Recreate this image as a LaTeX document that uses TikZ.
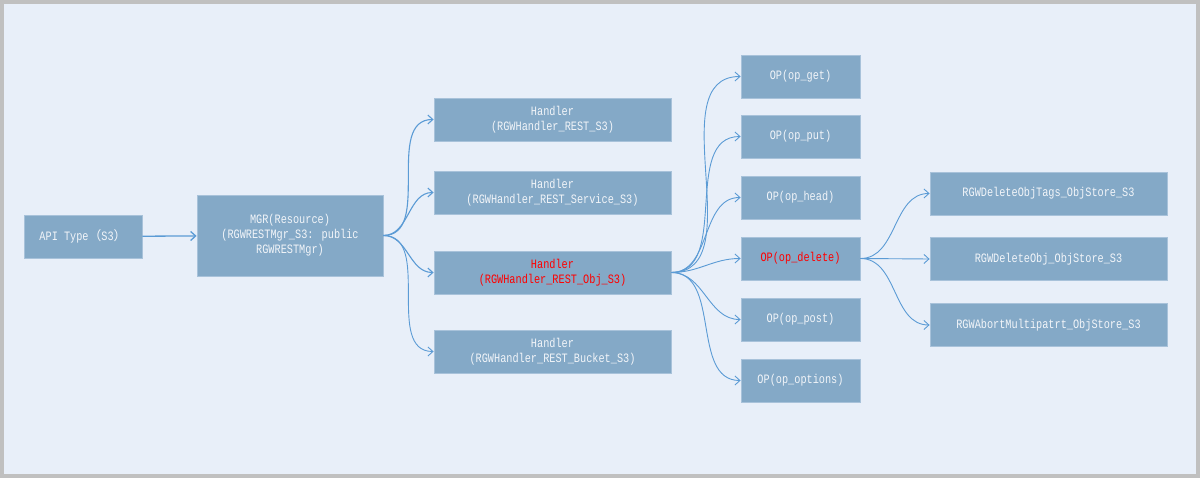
\documentclass[tikz,border=0pt]{standalone}
\usepackage{fontspec}
\setmainfont{Liberation Mono}[FakeStretch=0.8]
\newfontfamily\cjk{Noto Sans CJK SC}
\usetikzlibrary{arrows.meta}
\definecolor{pagebg}{RGB}{232,239,249}
\definecolor{frame}{RGB}{192,192,192}
\definecolor{boxfill}{RGB}{132,169,199}
\definecolor{boxline}{RGB}{168,194,218}
\definecolor{linkblue}{RGB}{91,155,213}
\definecolor{boxtext}{RGB}{242,245,249}
\tikzset{
  box/.style={draw=boxline,fill=boxfill,line width=0.8pt,inner sep=0pt,
    text=boxtext,align=center,font=\fontsize{12.8}{15}\selectfont,
    minimum height=43pt},
  hot/.style={text=red},
  link/.style={draw=linkblue,line width=0.9pt,
    -{Straight Barb[length=5pt,width=9pt]}}
}
\begin{document}
\begin{tikzpicture}[x=1pt,y=-1pt]
  % frame and page
  \fill[frame] (0,0) rectangle (1200,478);
  \fill[pagebg] (4,4) rectangle (1196,474);
  \useasboundingbox (0,0) rectangle (1200,478);

  \node[box,minimum width=118pt] (api) at (83,236.5) {API Type{\cjk （}S3{\cjk ）}};
  \node[box,minimum width=186pt,minimum height=81pt] (mgr) at (290,235.5)
    {MGR(Resource)\\(RGWRESTMgr\_S3: public\\RGWRESTMgr)};

  \node[box,minimum width=237pt] (h1) at (552.5,119.5) {Handler\\(RGWHandler\_REST\_S3)};
  \node[box,minimum width=237pt] (h2) at (552.5,192.5) {Handler\\(RGWHandler\_REST\_Service\_S3)};
  \node[box,hot,minimum width=237pt] (h3) at (552.5,272.5) {Handler\\(RGWHandler\_REST\_Obj\_S3)};
  \node[box,minimum width=237pt] (h4) at (552.5,351.5) {Handler\\(RGWHandler\_REST\_Bucket\_S3)};

  \node[box,minimum width=119pt] (get) at (800.5,76.5) {OP(op\_get)};
  \node[box,minimum width=119pt] (put) at (800.5,136.5) {OP(op\_put)};
  \node[box,minimum width=119pt] (head) at (800.5,197.5) {OP(op\_head)};
  \node[box,hot,minimum width=119pt] (delete) at (800.5,258.5) {OP(op\_delete)};
  \node[box,minimum width=119pt] (post) at (800.5,319.5) {OP(op\_post)};
  \node[box,minimum width=119pt] (options) at (800.5,380.5) {OP(op\_options)};

  \node[box,minimum width=237pt] (tags) at (1048.5,193.5) {RGWDeleteObjTags\_ObjStore\_S3};
  \node[box,minimum width=237pt] (obj) at (1048.5,259) {RGWDeleteObj\_ObjStore\_S3};
  \node[box,minimum width=237pt] (abort) at (1048.5,325) {RGWAbortMultipatrt\_ObjStore\_S3};

  \begin{scope}[link]
    \draw[line width=1.3pt] (api) -- (mgr);
    \draw[line width=1.1pt] (mgr.east) to[out=0,in=180] (h1.west);
    \draw[line width=1.1pt] (mgr.east) to[out=0,in=180] (h2.west);
    \draw[line width=1.1pt] (mgr.east) to[out=0,in=180] (h3.west);
    \draw (mgr.east) to[out=0,in=180] (h4.west);
    \draw (h3.east) to[out=0,in=180] (get.west);
    \draw (h3.east) to[out=0,in=180] (put.west);
    \draw (h3.east) to[out=0,in=180] (head.west);
    \draw (h3.east) to[out=0,in=180] (delete.west);
    \draw (h3.east) to[out=0,in=180] (post.west);
    \draw (h3.east) to[out=0,in=180] (options.west);
    \draw (delete.east) to[out=0,in=180] (tags.west);
    \draw (delete.east) -- (obj.west);
    \draw (delete.east) to[out=0,in=180] (abort.west);
  \end{scope}
\end{tikzpicture}
\end{document}
